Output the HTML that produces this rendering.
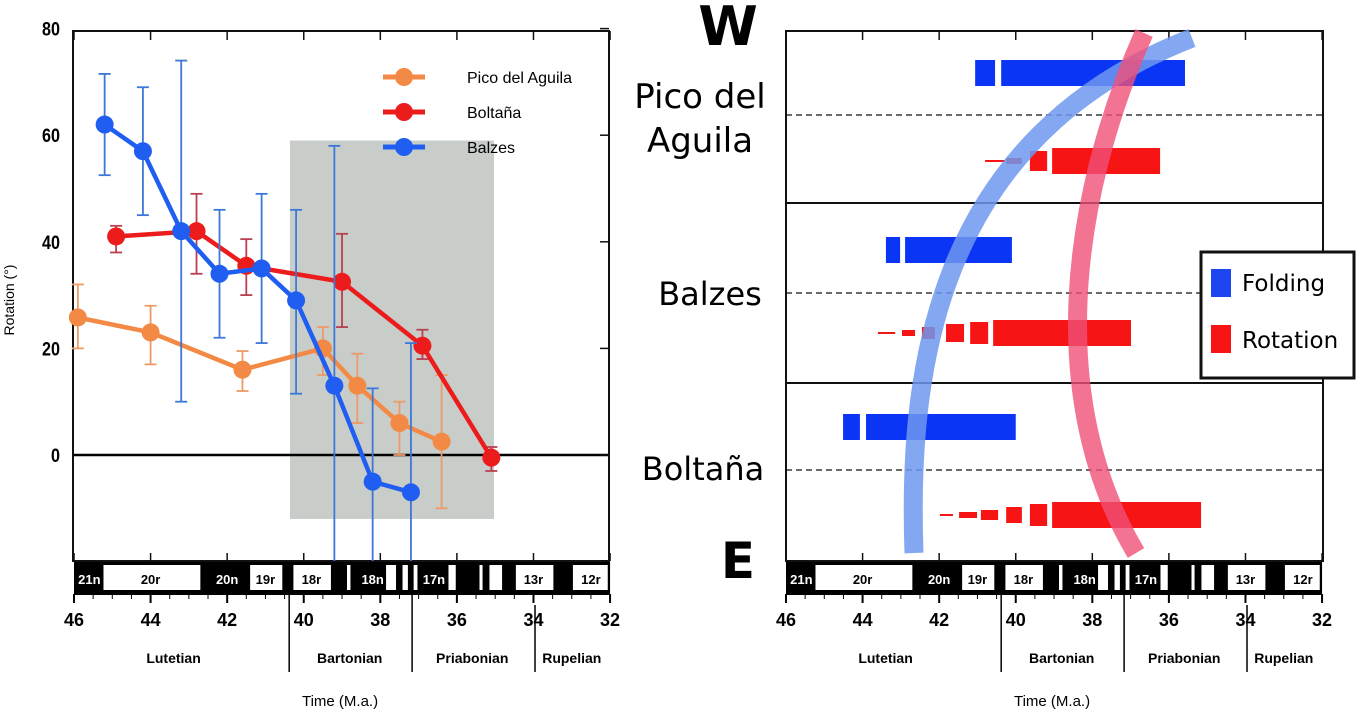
<!DOCTYPE html>
<html><head><meta charset="utf-8"><style>
html,body{margin:0;padding:0;background:#fff;}
svg{display:block;font-family:"Liberation Sans",sans-serif;}
.hand{font-family:"DejaVu Sans",sans-serif;}
</style></head><body>
<svg id="s" width="1358" height="713" viewBox="0 0 1358 713" xmlns="http://www.w3.org/2000/svg"></svg>
<script>
// ---------- data ----------
const picoAge=[45.9,44.0,41.6,39.5,38.6,37.5,36.4];
const picoRot=[25.8,23,16,20,13,6,2.5];
const picoLo=[20,17,12,15,6,0,-10];
const picoHi=[32,28,19.5,24,19,10,15];
const boltAge=[44.9,42.8,41.5,39.0,36.9,35.1];
const boltRot=[41,42,35.5,32.5,20.5,-0.5];
const boltLo=[38,34,30,24,18,-3];
const boltHi=[43,49,40.5,41.5,23.5,1.5];
const balzAge=[45.2,44.2,43.2,42.2,41.1,40.2,39.2,38.2,37.2];
const balzRot=[62,57,42,34,35,29,13,-5,-7];
const balzLo=[52.5,45,10,22,21,11.5,-20,-20,-20];
const balzHi=[71.5,69,74,46,49,46,58,12.5,21];
const yTicks=[0,20,40,60,80];
const xTicks=[46,44,42,40,38,36,34,32];
const chronWhite=[[45.23,42.70],[41.40,40.56],[40.27,39.29],[38.87,38.78],[37.85,37.59],[37.42,37.28],[37.13,37.03],[36.22,36.03],[35.41,35.33],[35.15,34.82],[34.46,33.48],[32.97,32.06]];
const chronLabels=[["21n",45.6],["20r",44.0],["20n",42.0],["19r",41.0],["18r",39.8],["18n",38.2],["17n",36.6],["13r",34.0],["12r",32.5]];
const stageBounds=[40.38,37.17,33.96];
const stageNames=[["Lutetian",43.4],["Bartonian",38.8],["Priabonian",35.6],["Rupelian",33.0]];
const grayBox=[40.36,35.03,59,-12];
// right panel: [start age, end age, height px]
const picoFold=[[41.06,40.54],[40.38,35.58]];
const picoRotBars=[[40.80,40.28,2],[40.25,39.84,6],[39.63,39.18,20],[39.05,36.23,26]];
const balzFold=[[43.39,43.02],[42.89,40.10]];
const balzRotBars=[[43.60,43.15,2],[42.97,42.63,6],[42.45,42.11,12],[41.82,41.35,18],[41.19,40.72,22],[40.59,36.99,26]];
const boltFold=[[44.51,44.07],[43.91,40.0]];
const boltRotBars=[[41.98,41.64,2],[41.48,41.01,6],[40.91,40.46,10],[40.25,39.84,16],[39.63,39.18,22],[39.05,35.16,26]];

const S=document.getElementById('s');
const NS='http://www.w3.org/2000/svg';
function mk(t,a,p,txt){const e=document.createElementNS(NS,t);for(const k in a)e.setAttribute(k,a[k]);if(txt!==undefined)e.textContent=txt;(p||S).appendChild(e);return e;}
function xL(a){return 74+(46-a)*38.29;}
function xR(a){return 786+(46-a)*38.29;}
function yL(v){return 455-v*5.33;}

// ---------- left panel ----------
const L=mk('g',{});


const gb=mk('rect',{x:xL(grayBox[0]),y:yL(grayBox[2]),width:xL(grayBox[1])-xL(grayBox[0]),height:yL(grayBox[3])-yL(grayBox[2]),fill:'#c9cdca'},L);


mk('line',{x1:73,x2:609,y1:yL(0),y2:yL(0),stroke:'#000','stroke-width':2.5},L);
mk('rect',{x:73,y:31,width:536,height:530,fill:'none',stroke:'#111','stroke-width':2},L);
xTicks.forEach(t=>{mk('line',{x1:xL(t),x2:xL(t),y1:31,y2:40,stroke:'#111','stroke-width':1.5},L);mk('line',{x1:xL(t),x2:xL(t),y1:561,y2:553,stroke:'#111','stroke-width':1.5},L);});
yTicks.forEach(t=>{mk('line',{x1:600,x2:609,y1:yL(t),y2:yL(t),stroke:'#111','stroke-width':1.5},L);
 const tl=mk('text',{x:60,y:yL(t)+7,'text-anchor':'end','font-size':19,'font-weight':'bold',transform:`translate(60 0) scale(0.85 1) translate(-60 0)`},L,t);
 
 });
const yt=mk('text',{x:0,y:0,'font-size':14,'text-anchor':'middle',transform:'translate(14 300) rotate(-90)'},L,'Rotation (°)');



function series(ages,vals,lo,hi,col,ecol,name){
 const g=mk('g',{},L);
 
 
 ages.forEach((a,i)=>{const x=xL(a);const y1=Math.min(yL(lo[i]),561);mk('line',{x1:x,x2:x,y1:yL(hi[i]),y2:y1,stroke:ecol,'stroke-width':1.8},g);
  mk('line',{x1:x-6,x2:x+6,y1:yL(hi[i]),y2:yL(hi[i]),stroke:ecol,'stroke-width':1.8},g);
  if(lo[i]>-20)mk('line',{x1:x-6,x2:x+6,y1:yL(lo[i]),y2:yL(lo[i]),stroke:ecol,'stroke-width':1.8},g);});
 mk('polyline',{points:ages.map((a,i)=>xL(a)+','+yL(vals[i])).join(' '),fill:'none',stroke:col,'stroke-width':4.5},g);
 ages.forEach((a,i)=>{const c=mk('circle',{cx:xL(a),cy:yL(vals[i]),r:9,fill:col},g);
  
  });
}
series(picoAge,picoRot,picoLo,picoHi,'#f28a45','#ee9a66','pico-del-aguila-series');
series(boltAge,boltRot,boltLo,boltHi,'#ec1c1c','#b84050','boltana-series');
series(balzAge,balzRot,balzLo,balzHi,'#1f5ef0','#3c78d8','balzes-series');
[['Pico del Aguila','#f28a45',62],['Boltaña','#ec1c1c',97],['Balzes','#1f5ef0',132]].forEach(([n,c,y])=>{
 const g=mk('g',{},L);
 
 
 mk('line',{x1:383,x2:425,y1:y+15,y2:y+15,stroke:c,'stroke-width':5},g);
 mk('circle',{cx:404,cy:y+15,r:9,fill:c},g);
 mk('text',{x:467,y:y+21,'font-size':16},g,n);});

// ---------- timescale ----------
function timescale(xf,prefix){
 const g=mk('g',{});
 
 
 mk('rect',{x:xf(46),y:562,width:xf(32)-xf(46),height:31,fill:'#000'},g);
 chronWhite.forEach(([a,b])=>mk('rect',{x:xf(a),y:565,width:xf(b)-xf(a),height:25,fill:'#fff'},g));
 chronLabels.forEach(([n,a])=>mk('text',{x:xf(a),y:584,'text-anchor':'middle','font-size':13,'font-weight':'bold',fill:(n=='21n'||n=='20n'||n=='18n'||n=='17n')?'#fff':'#000'},g,n));
 mk('line',{x1:xf(46),x2:xf(32),y1:594,y2:594,stroke:'#000','stroke-width':2},g);
 for(let a=46;a>=32;a-=0.5){const maj=Number.isInteger(a/2);mk('line',{x1:xf(a),x2:xf(a),y1:594,y2:maj?603:599,stroke:'#000','stroke-width':maj?2:1},g);}
 xTicks.forEach(t=>{const tl=mk('text',{x:xf(t),y:626,'text-anchor':'middle','font-size':18,'font-weight':'bold'},g,t);
  
  });
 stageBounds.forEach((a,i)=>mk('line',{x1:xf(a),x2:xf(a),y1:i==2?605:594,y2:672,stroke:'#000','stroke-width':1.5},g));
 stageNames.forEach(([n,a])=>mk('text',{x:xf(a),y:663,'text-anchor':'middle','font-size':14,'font-weight':'bold'},g,n));
 const xt=mk('text',{x:(xf(46)+xf(32))/2-2,y:706,'text-anchor':'middle','font-size':15},g,'Time (M.a.)');
 
 
}
timescale(xL,'left');
timescale(xR,'right');

// ---------- right panel ----------
const R=mk('g',{});


mk('rect',{x:786,y:31,width:537,height:530,fill:'none',stroke:'#111','stroke-width':2},R);
[203,383].forEach(y=>mk('line',{x1:786,x2:1323,y1:y,y2:y,stroke:'#111','stroke-width':2},R));
[115,293,470].forEach(y=>mk('line',{x1:786,x2:1323,y1:y,y2:y,stroke:'#111','stroke-width':1.3,'stroke-dasharray':'6 4'},R));
xTicks.forEach(t=>{mk('line',{x1:xR(t),x2:xR(t),y1:31,y2:40,stroke:'#111','stroke-width':1.5},R);mk('line',{x1:xR(t),x2:xR(t),y1:561,y2:553,stroke:'#111','stroke-width':1.5},R);});
function bars(list,yc,col,name,h){list.forEach(b=>{const hh=b[2]||h;const r=mk('rect',{x:xR(b[0]),y:yc-hh/2,width:xR(b[1])-xR(b[0]),height:hh,fill:col},R);
 
 });}
bars(picoFold,73,'#0b35f5','pico-folding-bar',26);
bars(picoRotBars,161,'#f61414','pico-rotation-bar');
bars(balzFold,250,'#0b35f5','balzes-folding-bar',26);
bars(balzRotBars,333,'#f61414','balzes-rotation-bar');
bars(boltFold,427,'#0b35f5','boltana-folding-bar',26);
bars(boltRotBars,515,'#f61414','boltana-rotation-bar');
const bt=mk('path',{d:'M 914 553 C 908 380, 930 140, 1192 38',fill:'none',stroke:'#6f98ee','stroke-width':19,'stroke-opacity':0.85},R);


const pt=mk('path',{d:'M 1144 33 C 1070 200, 1045 400, 1136 553',fill:'none',stroke:'#f05078','stroke-width':19,'stroke-opacity':0.8},R);


const lg=mk('g',{},R);


mk('rect',{x:1201,y:252,width:153,height:126,fill:'#fff',stroke:'#111','stroke-width':3},lg);
mk('rect',{x:1211,y:269,width:20,height:28,fill:'#1e46f0'},lg);
mk('rect',{x:1211,y:325,width:20,height:28,fill:'#f61414'},lg);
mk('text',{x:1242,y:291,'font-size':23,class:'hand'},lg,'Folding');
mk('text',{x:1242,y:348,'font-size':23,class:'hand'},lg,'Rotation');
[['W',728,45,54,'middle'],['Pico del',700,108,34,'middle'],['Aguila',700,152,34,'middle'],['Balzes',710,305,32,'middle'],['Boltaña',703,480,32,'middle'],['E',738,578,50,'middle']].forEach(([t,x,y,fs,an])=>{
 const e=mk('text',{x:x,y:y,'font-size':fs,'text-anchor':an,class:'hand','font-weight':(t=='W'||t=='E')?'bold':'normal'},S,t);
 
 });
</script>
</body></html>
